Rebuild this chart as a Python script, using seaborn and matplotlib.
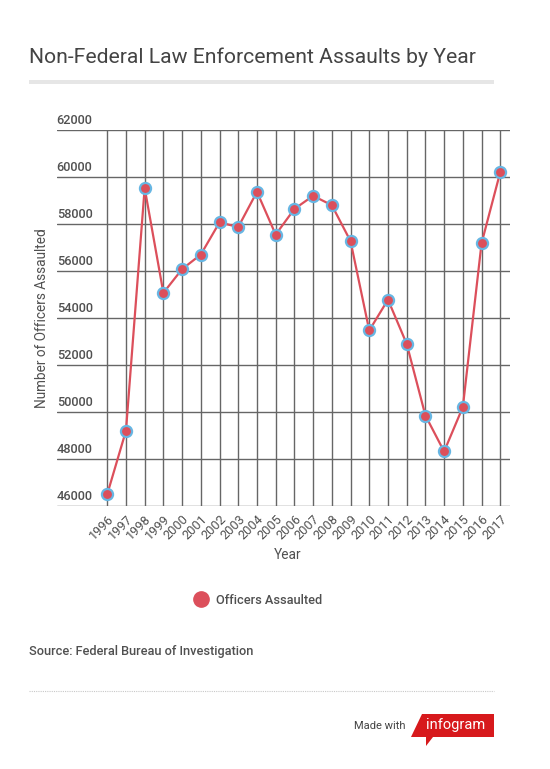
import matplotlib
matplotlib.use("Agg")
import matplotlib.pyplot as plt
import matplotlib.transforms as mtransforms
from matplotlib.lines import Line2D
from matplotlib.patches import Rectangle, Polygon
import seaborn as sns
import pandas as pd

years = list(range(1996, 2018))
officers_assaulted = [46500, 49200, 59530, 55070, 56080, 56700, 58070, 57870, 59370,
                      57550, 58640, 59200, 58800, 57270, 53470, 54780, 52900, 49850,
                      48320, 50210, 57180, 60210]
y_ticks = [46000, 48000, 50000, 52000, 54000, 56000, 58000, 60000, 62000]
series_name = "Officers Assaulted"
title = "Non-Federal Law Enforcement Assaults by Year"
source = "Source: Federal Bureau of Investigation"

df = pd.DataFrame({"Year": years, series_name: officers_assaulted})

sns.set_theme(style="white")
plt.rcParams['font.family'] = ['Roboto', 'DejaVu Sans']

W, H = 550, 769
fig = plt.figure(figsize=(W / 100, H / 100), dpi=100)
fig.patch.set_facecolor("white")

def fx(px):
    return px / W

def fy(py):
    return 1 - py / H

ax_left, ax_right, ax_top, ax_bottom = 56.7, 510, 130, 506
ax = fig.add_axes([fx(ax_left), fy(ax_bottom), fx(ax_right) - fx(ax_left), (ax_bottom - ax_top) / H])

red = "#dc4f5b"
blue = "#67b6e3"
grid_c = "#666666"
text_c = "#505050"

sns.lineplot(data=df, x="Year", y=series_name, ax=ax, color=red, linewidth=1.6,
             marker="o", markersize=8, markerfacecolor=red, markeredgecolor=blue,
             markeredgewidth=1.6, clip_on=False, zorder=5)

ax.set_xlim(1993.30, 2017.52)
ax.set_ylim(46000, 62000)
ax.set_xticks(years)
ax.set_yticks(y_ticks)
ax.grid(True, color=grid_c, linewidth=1.0)
ax.set_axisbelow(True)
for s in ax.spines.values():
    s.set_visible(False)
ax.set_xlabel("")
ax.set_ylabel("")
ax.tick_params(axis="both", length=0)
ax.set_yticklabels([])
ax.set_xticklabels([str(y) for y in years], rotation=45, ha="right", va="top",
                   rotation_mode="anchor", fontsize=9.2, color=text_c)
ax.tick_params(axis="x", pad=5)

off = mtransforms.ScaledTranslation(0, 3 / 100, fig.dpi_scale_trans)
for t in y_ticks:
    ax.text(0, t, str(t), transform=ax.get_yaxis_transform() + off, ha="left", va="bottom",
            fontsize=9.2, fontweight="medium", color=text_c)

fig.text(fx(42), fy(318), "Number of Officers Assaulted", rotation=90, ha="center", va="center",
         fontsize=9.8, color=text_c)
fig.text(fx(288), fy(555), "Year", ha="center", va="center", fontsize=9.8, color=text_c)

# title
fig.text(fx(29), fy(63), title, ha="left", va="baseline", fontsize=15.2, color="#444444",
         fontweight="normal")
fig.patches.append(Rectangle((fx(29), fy(84.3)), fx(494) - fx(29), 4.3 / H,
                             transform=fig.transFigure, color="#e6e6e6", lw=0))

# legend
handle = Line2D([], [], marker="o", linestyle="none", markersize=11,
                markerfacecolor=red, markeredgecolor=red)
fig.legend(handles=[handle], labels=[series_name], loc="center left",
           bbox_to_anchor=(fx(193), fy(600)), frameon=False, borderpad=0,
           borderaxespad=0, handletextpad=0.6, handlelength=1.2,
           prop={"family": "Roboto", "weight": "medium", "size": 9.2},
           labelcolor=text_c)

# source
fig.text(fx(29), fy(652), source, ha="left", va="center", fontsize=9.2,
         fontweight="medium", color=text_c)

# dotted separator
fig.lines.append(Line2D([fx(29), fx(494)], [fy(691), fy(691)], transform=fig.transFigure,
                        color="#c8c8c8", linewidth=0.8, linestyle=(0, (1, 1))))

# made with infogram
fig.text(fx(405), fy(726), "Made with", ha="right", va="center", fontsize=8.0, color="#444444")
logo_pts = [(411, 737), (422, 714), (494, 714), (494, 737), (433, 737), (426, 746), (426, 737)]
fig.patches.append(Polygon([(fx(x), fy(y)) for x, y in logo_pts], closed=True,
                           transform=fig.transFigure, color="#d7191c", lw=0))
fig.text(fx(456), fy(725.5), "infogram", ha="center", va="center", fontsize=10.5,
         color="white")

fig.savefig("out.png", dpi=100, facecolor="white")
